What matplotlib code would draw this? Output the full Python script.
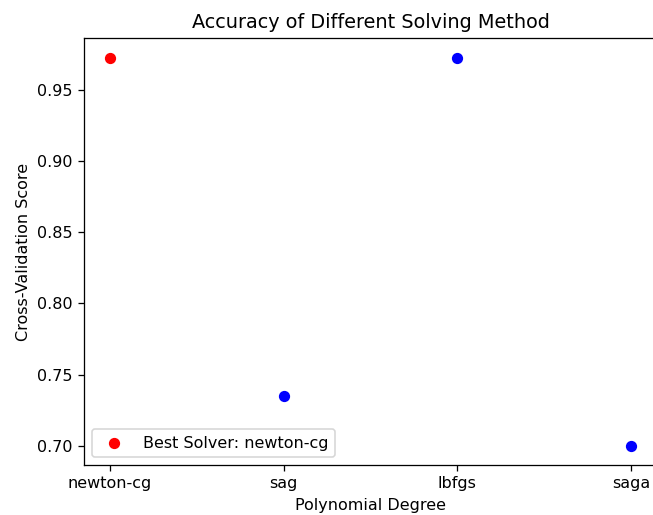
import matplotlib
matplotlib.use("Agg")
import matplotlib.pyplot as plt

solvers = ["newton-cg", "sag", "lbfgs", "saga"]
scores = [0.973, 0.735, 0.973, 0.700]
best = "newton-cg"

# reference looks like a default figure rendered at ~115 dpi and cropped
dpi = 115.5
fig = plt.figure(figsize=(653 / dpi, 515 / dpi), dpi=dpi)
ax = fig.add_axes([0.1286, 0.097, 0.8775, 0.829])

others = [(s, v) for s, v in zip(solvers, scores) if s != best]
ax.scatter(solvers, scores, c="none")  # keeps category order on the x axis
ax.scatter([s for s, v in others], [v for s, v in others], c="blue")
ax.scatter([best], [scores[solvers.index(best)]], c="red", label="Best Solver: " + best)

ax.set_title("Accuracy of Different Solving Method")
ax.set_xlabel("Polynomial Degree")
ax.set_ylabel("Cross-Validation Score")
ax.legend(loc="lower left")

fig.savefig("out.png", dpi=dpi)
